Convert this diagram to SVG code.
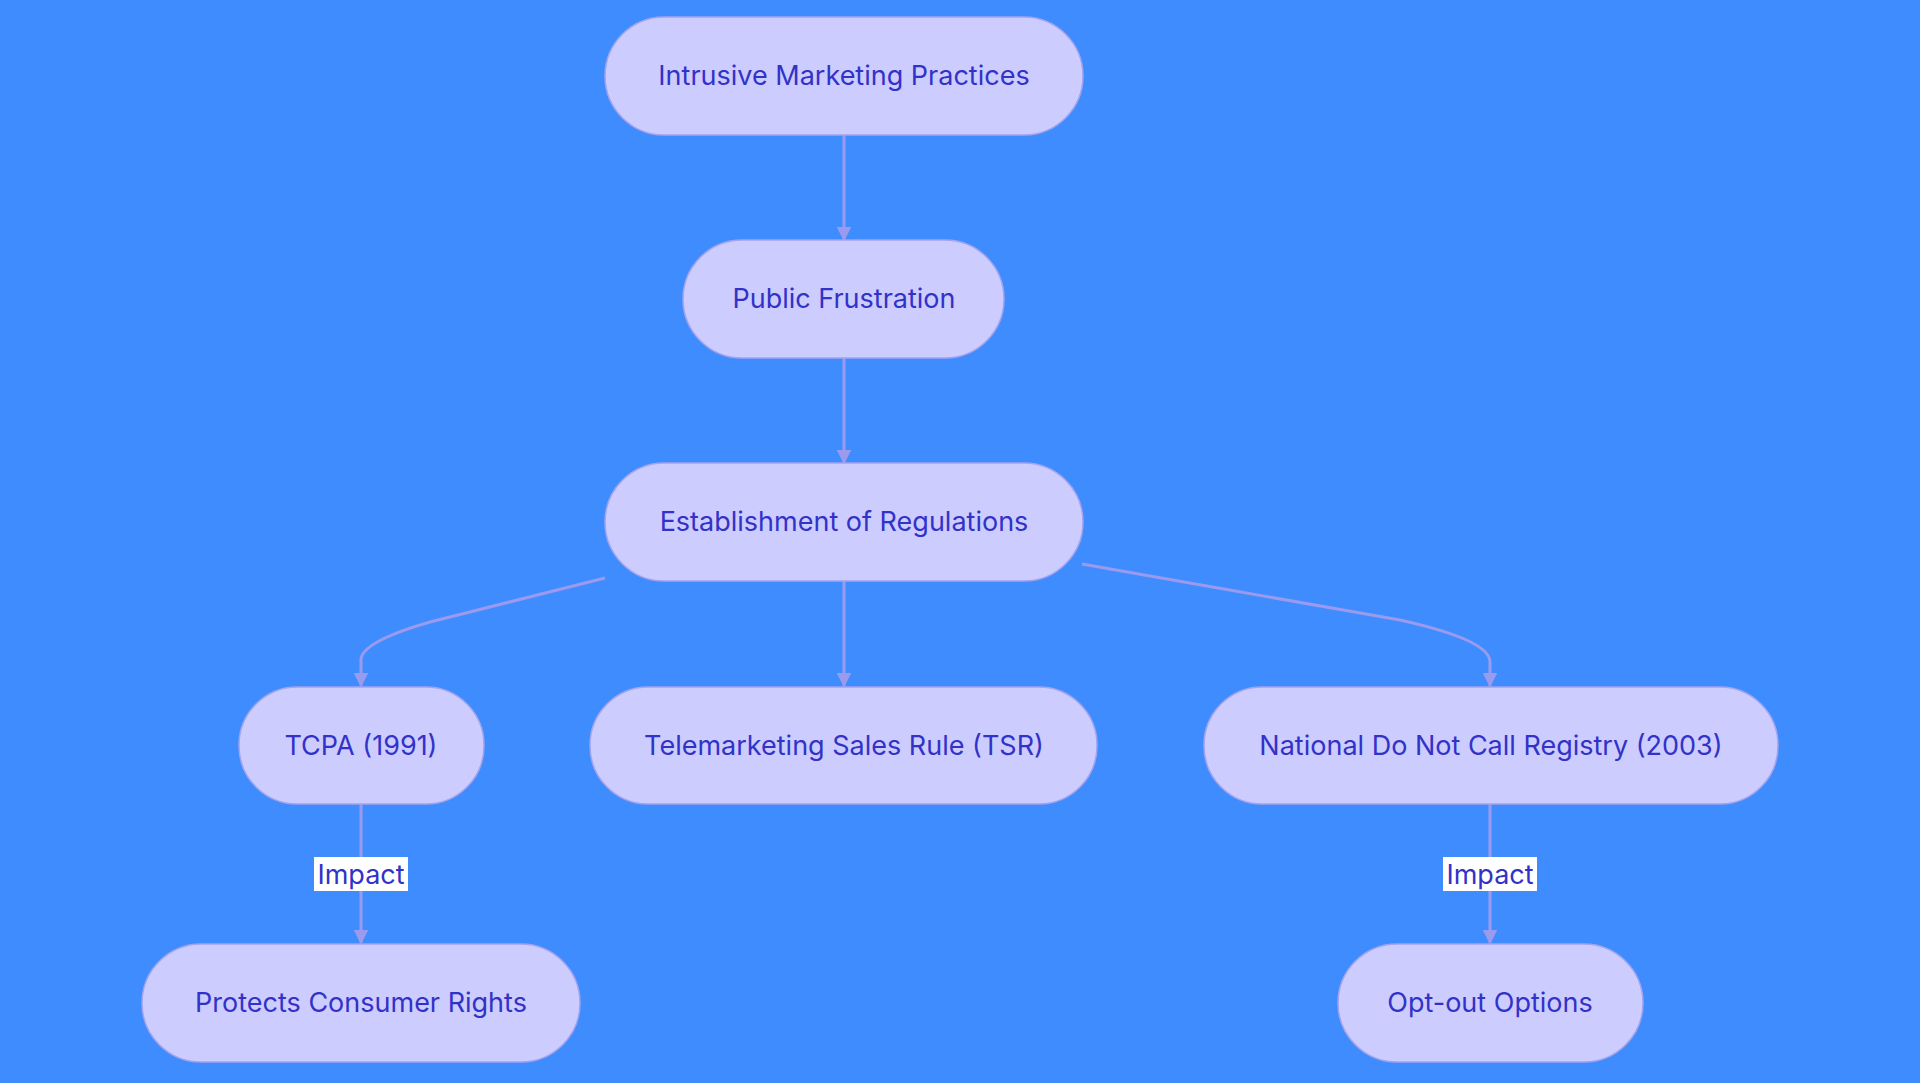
<svg xmlns="http://www.w3.org/2000/svg" width="1920" height="1083" viewBox="0 0 1920 1083">
<style>
.n rect{fill:#ccccff;stroke:#a3a3ee;stroke-width:1.5}
.n text,.lb text{font-family:Inter,"Liberation Sans",sans-serif;font-size:27px;fill:#3232c8;text-anchor:middle;dominant-baseline:central}
.e path{fill:none;stroke:#9a9aee;stroke-width:3}
.lb rect{fill:#ffffff}
</style>
<defs><marker id="a" viewBox="0 0 10 10" refX="9" refY="5" markerWidth="5" markerHeight="5" orient="auto" markerUnits="strokeWidth"><path d="M0,0L10,5L0,10z" fill="#9a9aee"/></marker></defs>
<rect width="1920" height="1083" fill="#3f8cff"/>
<g class="e">
<path d="M844,135V240" marker-end="url(#a)"/>
<path d="M844,358V463" marker-end="url(#a)"/>
<path d="M844,580V686" marker-end="url(#a)"/>
<path d="M605,578L430,622Q361,642 361,660V686" marker-end="url(#a)"/>
<path d="M1082,564L1400,620Q1490,640 1490,662V686" marker-end="url(#a)"/>
<path d="M361,804V943" marker-end="url(#a)"/>
<path d="M1490,804V943" marker-end="url(#a)"/>
</g>
<g class="lb"><rect x="314" y="857" width="94" height="34"/><text x="361" y="874">Impact</text></g>
<g class="lb"><rect x="1443" y="857" width="94" height="34"/><text x="1490" y="874">Impact</text></g>
<g class="n" id="n1"><rect x="605" y="17" width="478" height="118" rx="59"/><text x="844" y="75">Intrusive Marketing Practices</text></g>
<g class="n" id="n2"><rect x="683" y="240" width="321" height="118" rx="59"/><text x="844" y="298">Public Frustration</text></g>
<g class="n" id="n3"><rect x="605" y="463" width="478" height="118" rx="59"/><text x="844" y="521">Establishment of Regulations</text></g>
<g class="n" id="n4"><rect x="239" y="687" width="245" height="117" rx="58"/><text x="361" y="745">TCPA (1991)</text></g>
<g class="n" id="n5"><rect x="590" y="687" width="507" height="117" rx="58"/><text x="844" y="745">Telemarketing Sales Rule (TSR)</text></g>
<g class="n" id="n6"><rect x="1204" y="687" width="574" height="117" rx="58"/><text x="1491" y="745">National Do Not Call Registry (2003)</text></g>
<g class="n" id="n7"><rect x="142" y="944" width="438" height="118" rx="59"/><text x="361" y="1002">Protects Consumer Rights</text></g>
<g class="n" id="n8"><rect x="1338" y="944" width="305" height="118" rx="59"/><text x="1490" y="1002">Opt-out Options</text></g>
</svg>
